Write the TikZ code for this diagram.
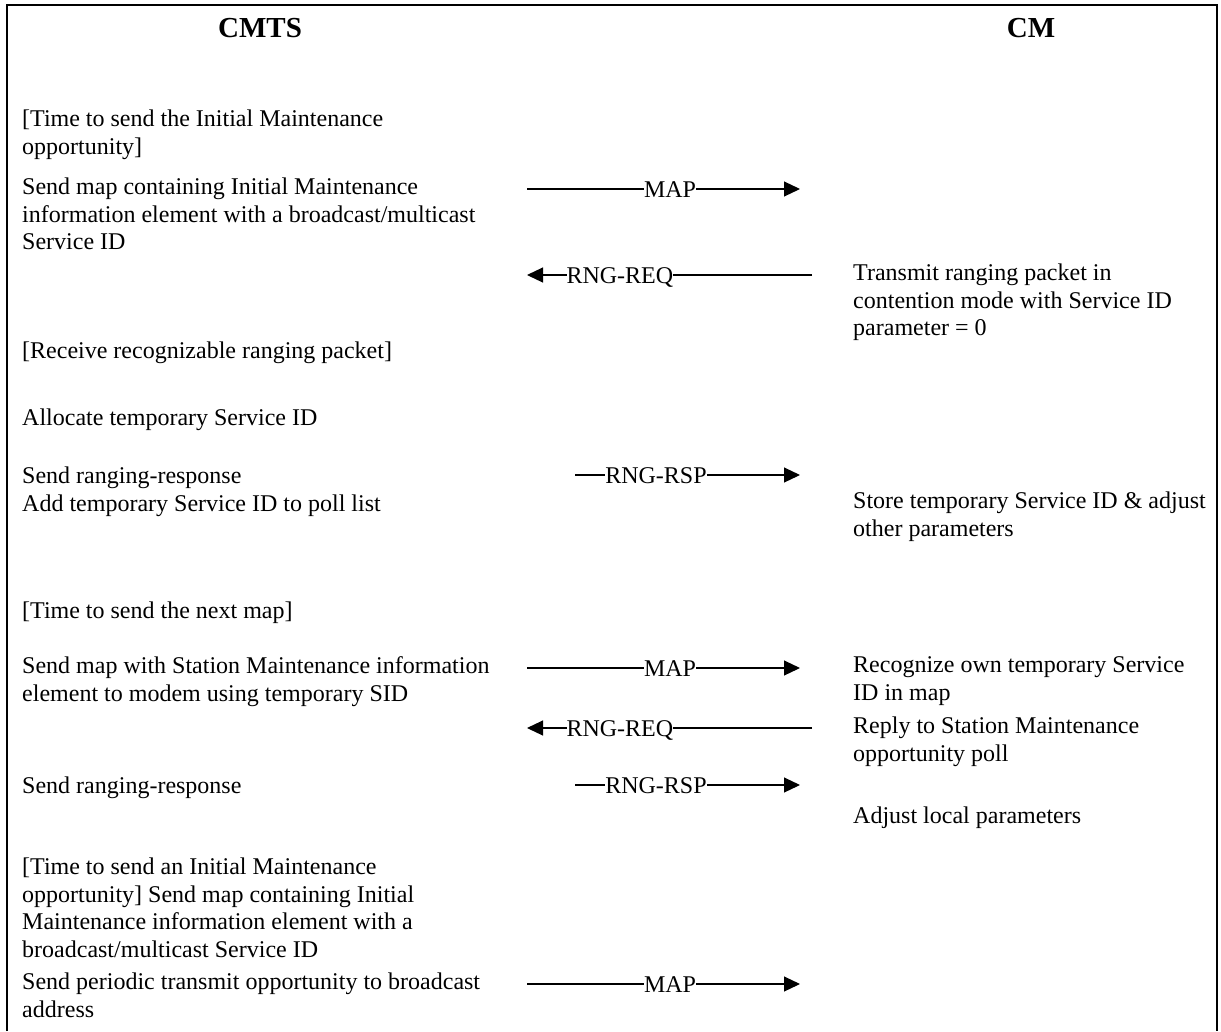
\documentclass[tikz,border=0pt]{standalone}
\usepackage{fontspec}
\setmainfont{Liberation Serif}
\usetikzlibrary{arrows.meta}
\tikzset{
  txt/.style={anchor=north west, inner sep=0pt, align=left, yshift=19.32pt,
    font=\fontsize{24}{27.6}\selectfont, execute at begin node=\strut},
  hdr/.style={anchor=base, inner sep=0pt, font=\fontsize{29}{30}\selectfont\bfseries},
  msg/.style={fill=white, inner xsep=0pt, inner ysep=1pt, text height=16.5pt, text depth=0pt,
    font=\fontsize{24}{27.6}\selectfont},
  fwd/.style={line width=1.1pt, -{Triangle[length=16pt,width=15pt]}},
  frame/.style={line width=2.5pt}
}
\begin{document}
\begin{tikzpicture}[x=1pt,y=-1pt]
\useasboundingbox (0,0) rectangle (1221,1031);
% frame
\coordinate (fbl) at (7,1031);
\coordinate (ftl) at (7,5);
\coordinate (ftr) at (1217,5);
\coordinate (fbr) at (1217,1031);
\draw[frame] (fbl) -- (ftl) -- (ftr) -- (fbr);
% headers
\node[hdr] (h1) at (260,37) {CMTS};
\node[hdr] (h2) at (1031,37) {CM};
% left column (y = first baseline)
\node[txt] (l1) at (22,129) {[Time to send the Initial Maintenance\\opportunity]};
\node[txt] (l2) at (22,197) {Send map containing Initial Maintenance\\information element with a broadcast/multicast\\Service ID};
\node[txt] (l3) at (22,358) {[Receive recognizable ranging packet]};
\node[txt] (l4) at (22,425) {Allocate temporary Service ID};
\node[txt] (l5) at (22,483) {Send ranging-response};
\node[txt] (l5b) at (22,511) {Add temporary Service ID to poll list};
\node[txt] (l6) at (22,618) {[Time to send the next map]};
\node[txt] (l7) at (22,676) {Send map with Station Maintenance information\\element to modem using temporary SID};
\node[txt] (l8) at (22,793) {Send ranging-response};
\node[txt] (l9) at (22,877) {[Time to send an Initial Maintenance\\opportunity] Send map containing Initial\\Maintenance information element with a\\broadcast/multicast Service ID};
\node[txt] (l10) at (22,992) {Send periodic transmit opportunity to broadcast\\address};
% right column
\node[txt] (r1) at (853,283) {Transmit ranging packet in\\contention mode with Service ID\\parameter = 0};
\node[txt] (r2) at (853,511) {Store temporary Service ID \& adjust\\other parameters};
\node[txt] (r3) at (853,676) {Recognize own temporary Service\\ID in map};
\node[txt] (r4) at (853,736) {Reply to Station Maintenance\\opportunity poll};
\node[txt] (r5) at (853,823) {Adjust local parameters};
% arrows
\coordinate (a1s) at (527,189); \coordinate (a1e) at (800,189);
\draw[fwd] (a1s) -- (a1e) node[msg, pos=0.524] (m1) {MAP};
\coordinate (a2s) at (812,275); \coordinate (a2e) at (527,275);
\draw[fwd] (a2s) -- (a2e) node[msg, pos=0.674] (m2) {RNG-REQ};
\coordinate (a3s) at (575,475); \coordinate (a3e) at (800,475);
\draw[fwd] (a3s) -- (a3e) node[msg, pos=0.36] (m3) {RNG-RSP};
\coordinate (a4s) at (527,668); \coordinate (a4e) at (800,668);
\draw[fwd] (a4s) -- (a4e) node[msg, pos=0.524] (m4) {MAP};
\coordinate (a5s) at (812,728); \coordinate (a5e) at (527,728);
\draw[fwd] (a5s) -- (a5e) node[msg, pos=0.674] (m5) {RNG-REQ};
\coordinate (a6s) at (575,785); \coordinate (a6e) at (800,785);
\draw[fwd] (a6s) -- (a6e) node[msg, pos=0.36] (m6) {RNG-RSP};
\coordinate (a7s) at (527,984); \coordinate (a7e) at (800,984);
\draw[fwd] (a7s) -- (a7e) node[msg, pos=0.524] (m7) {MAP};
\end{tikzpicture}
\end{document}
